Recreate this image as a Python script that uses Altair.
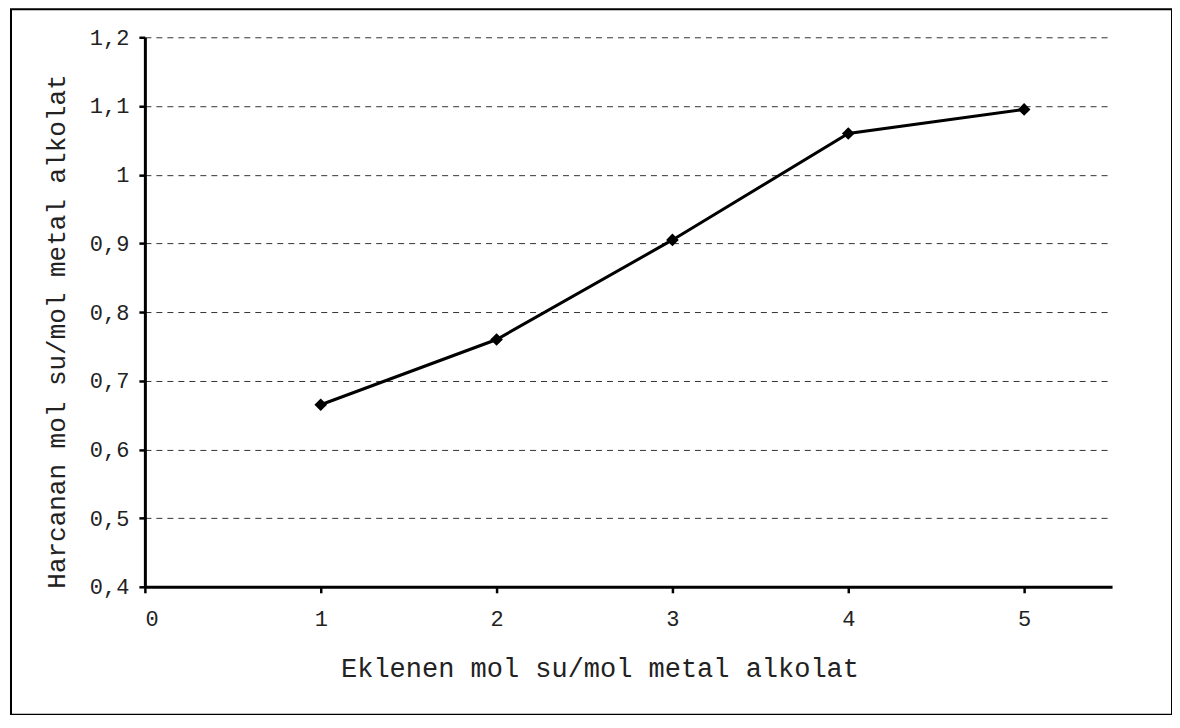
import altair as alt
import pandas as pd

# Data
x_vals = [1, 2, 3, 4, 5]
y_vals = [0.665, 0.76, 0.905, 1.06, 1.095]
x_ticks = [0, 1, 2, 3, 4, 5]
y_ticks = [0.4, 0.5, 0.6, 0.7, 0.8, 0.9, 1.0, 1.1, 1.2]
x_title = "Eklenen mol su/mol metal alkolat"
y_title = "Harcanan mol su/mol metal alkolat"

df = pd.DataFrame({"x": x_vals, "y": y_vals})
frame_df = pd.DataFrame({"k": [0]})

FONT = "Liberation Mono"

x_enc = alt.X(
    "x:Q",
    scale=alt.Scale(domain=[0, 5.5], nice=False, zero=False),
    axis=alt.Axis(
        values=x_ticks,
        title=x_title,
        grid=False,
        format="d",
        domainColor="black",
        domainWidth=3,
        tickColor="black",
        tickWidth=2.5,
        tickSize=6,
        labelFont=FONT,
        labelFontSize=22,
        labelColor="#222",
        labelPadding=16,
        titleFont=FONT,
        titleFontSize=27,
        titleFontWeight="normal",
        titleColor="#222",
        titlePadding=26,
        titleX=455,
    ),
)
y_enc = alt.Y(
    "y:Q",
    scale=alt.Scale(domain=[0.4, 1.2], nice=False, zero=False),
    axis=alt.Axis(
        values=y_ticks,
        title=y_title,
        grid=True,
        gridDash=[6, 5],
        gridColor="#333",
        gridWidth=1,
        format=".1~f",
        labelExpr="replace(datum.label, '.', ',')",
        domainColor="black",
        domainWidth=3,
        tickColor="black",
        tickWidth=2.5,
        tickSize=6,
        labelFont=FONT,
        labelFontSize=22,
        labelColor="#222",
        labelPadding=10,
        titleFont=FONT,
        titleFontSize=26,
        titleFontWeight="normal",
        titleColor="#222",
        titlePadding=20,
        titleY=294,
    ),
)

line = alt.Chart(df).mark_line(color="black", strokeWidth=3).encode(x=x_enc, y=y_enc)
pts = alt.Chart(df).mark_point(shape="diamond", filled=True, size=160, color="black", opacity=1).encode(
    x="x:Q", y="y:Q"
)
frame = alt.Chart(frame_df).mark_rect(fillOpacity=0, stroke="black", strokeWidth=2).encode(
    x=alt.value(-134), x2=alt.value(1028), y=alt.value(-28), y2=alt.value(678)
)

chart = (
    alt.layer(frame, line, pts)
    .properties(
        width=968,
        height=550,
        autosize=alt.AutoSizeParams(type="none"),
        padding={"left": 137, "top": 29, "right": 60, "bottom": 128},
        background="white",
    )
    .configure_view(stroke=None)
)

chart.save("out.html", embed_options={"renderer": "svg", "actions": False})
